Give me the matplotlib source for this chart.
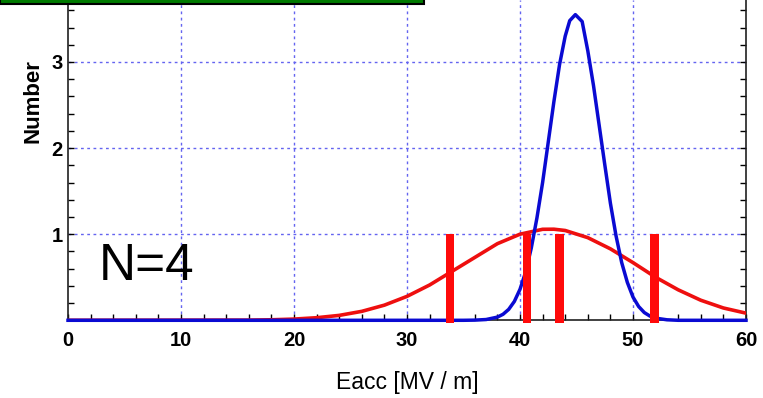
import numpy as np
import matplotlib.pyplot as plt
from matplotlib.patches import Rectangle
from matplotlib.ticker import MultipleLocator, FixedLocator

plt.rcParams['font.family'] = ['Liberation Sans', 'DejaVu Sans']

# blue curve (narrow distribution)
blue_x = [0, 30, 35, 36, 37, 38, 38.5, 39, 39.5, 40, 40.5, 41, 41.5, 42, 42.5, 43, 43.5,
          44, 44.4, 44.9, 45.5, 46, 46.5, 47, 47.5, 48, 48.5, 49, 49.5, 50, 50.5, 51, 51.5,
          52, 53, 54, 60]
blue_y = [0, 0, 0, 0.002, 0.009, 0.037, 0.07, 0.127, 0.219, 0.36, 0.561, 0.84, 1.19, 1.60,
          2.07, 2.54, 2.97, 3.30, 3.48, 3.55, 3.47, 3.13, 2.73, 2.27, 1.81, 1.36, 0.98, 0.67,
          0.44, 0.27, 0.16, 0.09, 0.049, 0.025, 0.006, 0, 0]

# red curve (wide distribution)
red_x = [0, 16, 18, 20, 22, 24, 26, 28, 30, 32, 34, 36, 38, 40, 42, 43,
         44, 46, 48, 50, 52, 54, 56, 58, 60]
red_y = [0, 0.002, 0.006, 0.014, 0.030, 0.057, 0.104, 0.176, 0.278, 0.41, 0.57, 0.73, 0.89,
         1.00, 1.057, 1.058, 1.043, 0.96, 0.83, 0.67, 0.50, 0.354, 0.233, 0.143, 0.083]

# measured points (red bars)
meas_x = [33.8, 40.6, 43.5, 51.9]
meas_h = [1.03, 1.03, 1.03, 1.03]

fig = plt.figure(figsize=(7.63, 3.98), dpi=100)
ax = fig.add_axes([68 / 763, (398 - 320.3) / 398, (746 - 68) / 763, 320.3 / 398])

grid_col = '#6464f0'
for gx in [10, 20, 30, 40, 50]:
    ax.axvline(gx, color=grid_col, lw=1, ls=(0, (2, 2.5)), zorder=1)
for gy in [1, 2, 3]:
    ax.axhline(gy, color=grid_col, lw=1, ls=(0, (2, 2.5)), zorder=1)

ax.plot(red_x, red_y, color='#ee0f0f', lw=2.6, zorder=3)
ax.plot(blue_x, blue_y, color='#0a0ad2', lw=2.5, zorder=4, clip_on=False)
ax.bar(meas_x, meas_h, bottom=-0.03, width=0.72, color='#ff0a0a', zorder=5, clip_on=False)

ax.set_xlim(0, 60)
ax.set_ylim(0, 3.72)
ax.xaxis.set_major_locator(MultipleLocator(10))
ax.xaxis.set_minor_locator(MultipleLocator(2))
ax.yaxis.set_major_locator(FixedLocator([1, 2, 3]))
ax.yaxis.set_minor_locator(MultipleLocator(0.2))
ax.tick_params(which='both', direction='in', right=True, top=False, length=4, width=1)
ax.tick_params(axis='x', labelsize=14.5, pad=8)
ax.tick_params(axis='y', labelsize=14.5, pad=4)
for lab in ax.get_xticklabels() + ax.get_yticklabels():
    lab.set_fontweight('bold')
for sp in ax.spines.values():
    sp.set_color('#202020')
    sp.set_linewidth(1.2)
ax.spines['top'].set_visible(False)

ax.set_xlabel('Eacc [MV / m]', fontsize=16.5)
ax.xaxis.set_label_coords(0.5, -0.158)
ax.set_ylabel('Number', fontsize=16, fontweight='bold')
ax.yaxis.set_label_coords(-0.036, 0.683)

ax.text(2.7, 0.62, 'N=4', fontsize=37, va='center', ha='left', zorder=6)

# green box partly cut off at the top
fig.patches.append(Rectangle((0, 1 - 4 / 398), 424 / 763, 12 / 398, transform=fig.transFigure,
                             facecolor='#007a00', edgecolor='black', lw=1.5))

fig.savefig('out.png', dpi=100)
